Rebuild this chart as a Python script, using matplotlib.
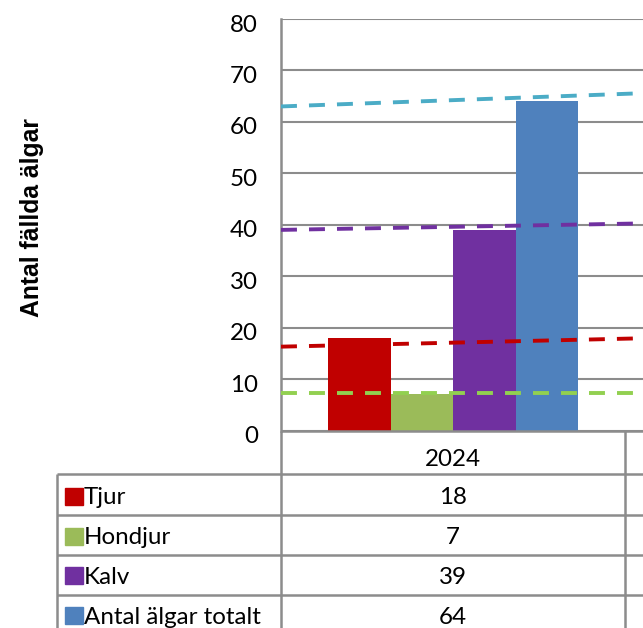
import matplotlib
matplotlib.use("Agg")
import matplotlib.pyplot as plt
import matplotlib.transforms as mtransforms
from matplotlib.lines import Line2D
from matplotlib.patches import Rectangle

# ---------------- data ----------------
categories = ["2024"]
series_names = ["Tjur", "Hondjur", "Kalv", "Antal älgar totalt"]
tjur = [18]
hondjur = [7]
kalv = [39]
totalt = [64]
series_values = [tjur, hondjur, kalv, totalt]
series_colors = ["#C00000", "#9BBB59", "#7030A0", "#4F81BD"]

# linear trend lines (values at category positions -0.5 and 1.5)
trend_x = [-0.5, 1.5]
trend_tjur = [16.3, 19.4]
trend_hondjur = [7.3, 7.3]
trend_kalv = [39.0, 41.4]
trend_totalt = [63.0, 67.9]
trend_values = [trend_tjur, trend_hondjur, trend_kalv, trend_totalt]
trend_colors = ["#C00000", "#92D050", "#7030A0", "#4BACC6"]

y_ticks = [0, 10, 20, 30, 40, 50, 60, 70, 80]
y_label = "Antal fällda älgar"

# ---------------- layout ----------------
W, H = 643, 628
fig = plt.figure(figsize=(W / 100, H / 100), dpi=100)
grid_col = "#8C8C8C"
FONT = "Lato"
fs = 17.4

def fx(px):
    return px / W

def fy(py):
    return 1 - py / H

ax_left, ax_top, ax_bottom = 281, 19, 430.5
cat_w = 344  # pixels per category
ax = fig.add_axes([fx(ax_left), fy(ax_bottom), fx(2 * cat_w), (ax_bottom - ax_top) / H])
ax.set_xlim(-0.5, 1.5)
ax.set_ylim(0, 80)

n = len(series_names)
bw = 62.5 / cat_w
for i, (vals, col) in enumerate(zip(series_values, series_colors)):
    xs = [k - n * bw / 2 + bw * (i + 0.5) for k in range(len(categories))]
    ax.bar(xs, vals, width=bw, color=col, zorder=3, linewidth=0)

for vals, col in zip(trend_values, trend_colors):
    ln, = ax.plot(trend_x, vals, color=col, lw=2.8, zorder=4, solid_capstyle="butt",
                  dash_capstyle="butt")
    ln.set_dashes((4.1, 3.1))

ax.set_yticks(y_ticks)
ax.set_xticks([])
ax.yaxis.grid(True, color=grid_col, lw=1.5, zorder=0)
ax.set_axisbelow(True)
for s in ["top", "right", "bottom"]:
    ax.spines[s].set_visible(False)
ax.spines["left"].set_color(grid_col)
ax.spines["left"].set_linewidth(1.8)
ax.tick_params(axis="y", length=0, pad=16.5)
off = mtransforms.ScaledTranslation(0, -4 / 100, fig.dpi_scale_trans)
for lbl in ax.get_yticklabels():
    lbl.set_fontfamily(FONT)
    lbl.set_fontsize(fs)
    lbl.set_color("black")
    lbl.set_transform(lbl.get_transform() + off)

fig.text(fx(32), fy(218), y_label, rotation=90, ha="center", va="center",
         fontsize=17.8, fontweight="bold", family="Liberation Sans", color="black")

# ---------------- data table ----------------
tl = dict(color=grid_col, lw=1.8, solid_capstyle="butt")
# vertical lines
fig.add_artist(Line2D([fx(ax_left)] * 2, [fy(ax_bottom), fy(H + 5)], **tl))
fig.add_artist(Line2D([fx(ax_left + cat_w)] * 2, [fy(ax_bottom), fy(H + 5)], **tl))
fig.add_artist(Line2D([fx(57)] * 2, [fy(474), fy(H + 5)], **tl))
# horizontal lines
fig.add_artist(Line2D([fx(ax_left), fx(W + 5)], [fy(ax_bottom)] * 2, **tl))
for yy in [474, 514.5, 554.5, 595]:
    fig.add_artist(Line2D([fx(57), fx(W + 5)], [fy(yy)] * 2, **tl))

cx = ax_left + cat_w / 2
fig.text(fx(cx), fy(466), categories[0], ha="center", va="baseline",
         fontsize=fs, family=FONT, color="black")
row_base = [504.5, 544.5, 584, 623.5]
for name, vals, col, yb in zip(series_names, series_values, series_colors, row_base):
    fig.add_artist(Rectangle((fx(65), fy(yb)), fx(18), 17 / H, color=col,
                             transform=fig.transFigure))
    fig.text(fx(84), fy(yb), name, ha="left", va="baseline", fontsize=fs,
             family=FONT, color="black")
    fig.text(fx(cx), fy(yb), str(vals[0]), ha="center", va="baseline",
             fontsize=fs, family=FONT, color="black")

fig.savefig("out.png", dpi=100)
